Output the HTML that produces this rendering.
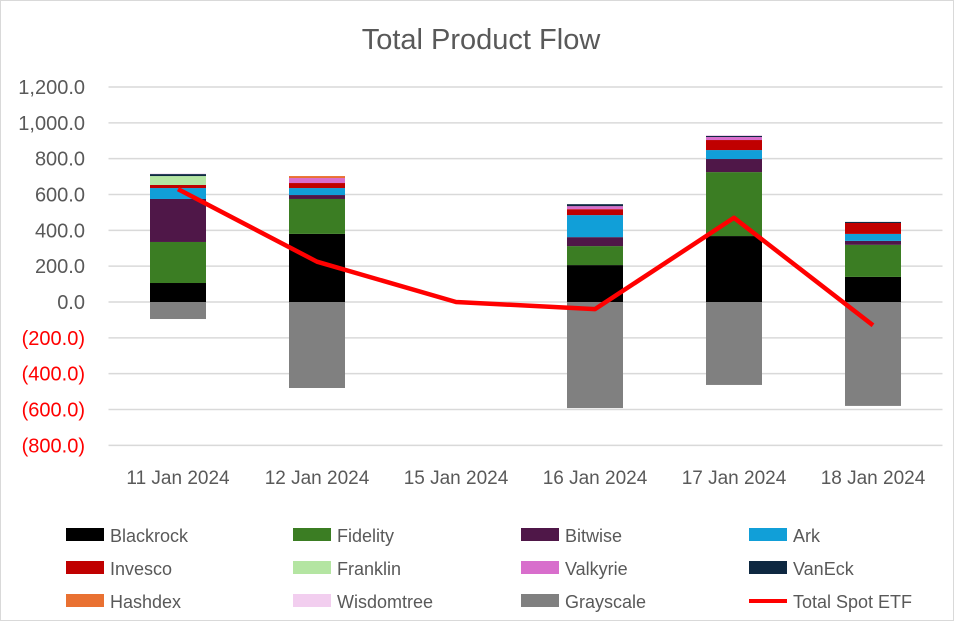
<!DOCTYPE html>
<html><head><meta charset="utf-8"><style>
body{margin:0;background:#fff;}
svg{display:block;font-family:"Liberation Sans",sans-serif;}
</style></head><body>
<svg id="chart" width="954" height="621" viewBox="0 0 954 621">
<rect x="0.5" y="0.5" width="953" height="620" fill="#fff" stroke="#d9d9d9"/>
<text x="481" y="49" text-anchor="middle" font-size="29" fill="#595959">Total Product Flow</text>
<g id="grid"></g><g id="yticks"></g><g id="bars"></g><g id="line"></g><g id="xlabels"></g><g id="legend"></g>
</svg>
<script>
const categories=["11 Jan 2024","12 Jan 2024","15 Jan 2024","16 Jan 2024","17 Jan 2024","18 Jan 2024"];
const seriesNames=["Blackrock","Fidelity","Bitwise","Ark","Invesco","Franklin","Valkyrie","VanEck","Hashdex","Wisdomtree","Grayscale"];
const seriesColors=["#000000","#3b7d23","#4f1748","#119fd8","#c00000","#b4e5a2","#d86ecc","#0e2841","#e97132","#f2ceef","#808080"];
const blackrock=[106,380,0,206,368,140];
const fidelity=[229,195,0,106,357,179];
const bitwise=[240,22,0,50,73,22];
const ark=[61,39,0,123,50,39];
const invesco=[17,28,0,33,56,61];
const franklin=[50,0,0,0,0,0];
const valkyrie=[0,28,0,17,17,0];
const vaneck=[11,0,0,11,6,6];
const hashdex=[0,11,0,0,0,0];
const wisdomtree=[3,0,0,0,5,0];
const grayscale=[-95,-480,0,-592,-463,-580];
const totalSpot=[630,225,0,-40,470,-130];
const yTicks=[1200,1000,800,600,400,200,0,-200,-400,-600,-800];
const series=[blackrock,fidelity,bitwise,ark,invesco,franklin,valkyrie,vaneck,hashdex,wisdomtree,grayscale];
const NS="http://www.w3.org/2000/svg";
const plotL=108.5,plotR=942.5,y0=302,pxPer=215/1200;
const yS=v=>y0-v*pxPer;
const band=(plotR-plotL)/categories.length;
const xC=i=>plotL+band*(i+0.5);
const barW=56;
function mk(t,a,p){const e=document.createElementNS(NS,t);for(const k in a)e.setAttribute(k,a[k]);p.appendChild(e);return e;}
const fmt=v=>{const s=Math.abs(v).toLocaleString("en-US",{minimumFractionDigits:1,maximumFractionDigits:1});return v<0?"("+s+")":s;};
const grid=document.getElementById("grid"),yt=document.getElementById("yticks");
yTicks.forEach(v=>{
 const l=mk("line",{x1:plotL,x2:plotR,y1:yS(v),y2:yS(v),stroke:"#d9d9d9","stroke-width":1.5},grid);
 
 
 const t=mk("text",{x:85,y:yS(v)+7,"text-anchor":"end","font-size":20,fill:v<0?"#ff0000":"#595959"},yt);
 t.textContent=fmt(v);
 
 
});
const bars=document.getElementById("bars");
categories.forEach((c,i)=>{
 let pos=0,neg=0;
 series.forEach((s,k)=>{
  const v=s[i]; if(!v)return;
  let top,bot;
  if(v>0){bot=pos;pos+=v;top=pos;}else{top=neg;neg+=v;bot=neg;}
  const r=mk("rect",{x:xC(i)-barW/2,y:yS(top),width:barW,height:yS(bot)-yS(top),fill:seriesColors[k]},bars);
  
  
 });
 const t=mk("text",{x:xC(i),y:484,"text-anchor":"middle","font-size":19,fill:"#595959"},document.getElementById("xlabels"));
 t.textContent=c;
 
 
});
const pts=totalSpot.map((v,i)=>xC(i)+","+yS(v)).join(" ");
const pl=mk("polyline",{points:pts,fill:"none",stroke:"#ff0000","stroke-width":4.5,"stroke-linejoin":"round"},document.getElementById("line"));


const leg=document.getElementById("legend");
const legNames=seriesNames.concat(["Total Spot ETF"]);
const colX=[66,293,521,749],rowY=[535,568,601];
legNames.forEach((n,j)=>{
 const x=colX[j%4],y=rowY[Math.floor(j/4)];
 const g=mk("g",{},leg);
 
 
 if(j<11) mk("rect",{x:x,y:y-7,width:38,height:13,fill:seriesColors[j]},g);
 else mk("line",{x1:x,x2:x+38,y1:y,y2:y,stroke:"#ff0000","stroke-width":4},g);
 const t=mk("text",{x:x+44,y:y+7,"font-size":18,fill:"#595959"},g);
 t.textContent=n;
});
</script>
</body></html>
